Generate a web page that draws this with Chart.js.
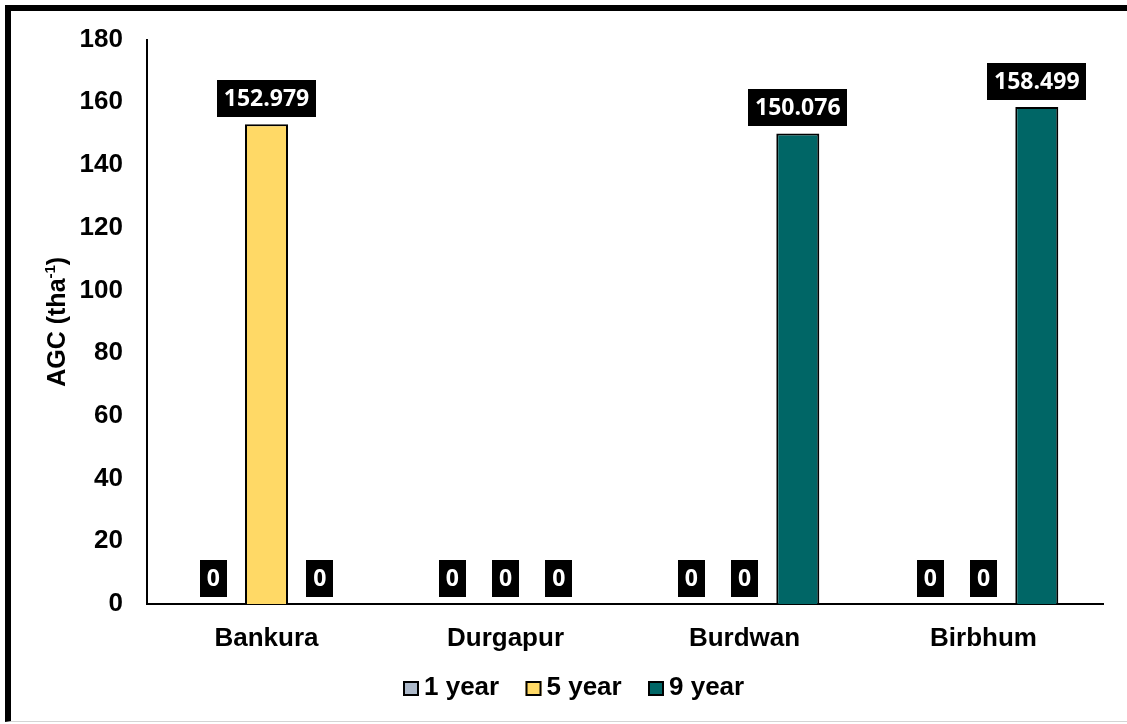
<!DOCTYPE html>
<html><head><meta charset="utf-8">
<script src="https://cdn.jsdelivr.net/npm/chart.js@4.4.0/dist/chart.umd.min.js"></script>
<style>
html,body{margin:0;padding:0;background:#fff;width:1127px;height:724px;overflow:hidden}
#frame{position:absolute;left:5px;top:5px;width:1122px;height:717px;border-left:6px solid #000;border-top:6px solid #000;border-bottom:1px solid #d4d4d4;box-sizing:border-box}
canvas{position:absolute;left:0;top:0}
</style></head><body>
<div id="frame"></div>
<canvas id="c" width="1127" height="724"></canvas>
<script>
const categories = ['Bankura', 'Durgapur', 'Burdwan', 'Birbhum'];
const seriesNames = ['1 year', '5 year', '9 year'];
const year1 = [0, 0, 0, 0];
const year5 = [152.979, 0, 0, 0];
const year9 = [0, 0, 150.076, 158.499];
const yTicks = [0, 20, 40, 60, 80, 100, 120, 140, 160, 180];
const yTitle = 'AGC (tha';
const yTitleSup = '-1';
const colors = ['#ADB9CA', '#FFD966', '#006666'];
const seriesData = [year1, year5, year9];

const TICK_FONT = '"Liberation Sans", Arial, sans-serif';
const LABEL_FONT = '"Open Sans", "Noto Sans", sans-serif';

const labelPlugin = {
  id: 'boxLabels',
  afterDatasetsDraw(chart) {
    const ctx = chart.ctx;
    ctx.save();
    ctx.font = 'bold 23px ' + LABEL_FONT;
    chart.data.datasets.forEach((ds, i) => {
      const meta = chart.getDatasetMeta(i);
      meta.data.forEach((bar, j) => {
        const v = ds.data[j];
        const txt = v === 0 ? '0' : v.toFixed(3);
        const w = Math.round(ctx.measureText(txt).width + 14);
        const h = 37;
        const bottom = Math.round(bar.y - 7);
        ctx.fillStyle = '#000';
        ctx.fillRect(Math.round(bar.x - w / 2), bottom - h, w, h);
        ctx.fillStyle = '#fff';
        ctx.textAlign = 'center';
        ctx.textBaseline = 'middle';
        ctx.fillText(txt, bar.x, bottom - h / 2 + 1);
      });
    });
    ctx.restore();
  }
};

const legendPlugin = {
  id: 'customLegend',
  afterDraw(chart) {
    const ctx = chart.ctx;
    ctx.save();
    ctx.font = 'bold 26px ' + TICK_FONT;
    ctx.textBaseline = 'alphabetic';
    ctx.textAlign = 'left';
    let x = 403;
    chart.data.datasets.forEach((ds, i) => {
      ctx.fillStyle = ds.backgroundColor;
      ctx.fillRect(x, 681, 16, 15);
      ctx.strokeStyle = '#000';
      ctx.lineWidth = 2;
      ctx.strokeRect(x + 1, 682, 14, 13);
      ctx.fillStyle = '#000';
      ctx.fillText(ds.label, x + 21, 695);
      x += 122.5;
    });
    ctx.restore();
  }
};

const titlePlugin = {
  id: 'yTitle',
  afterDraw(chart) {
    const ctx = chart.ctx;
    const a = chart.chartArea;
    ctx.save();
    ctx.translate(65, (a.top + a.bottom) / 2);
    ctx.rotate(-Math.PI / 2);
    ctx.fillStyle = '#000';
    ctx.textBaseline = 'alphabetic';
    ctx.textAlign = 'left';
    const mainF = 'bold 25px ' + TICK_FONT;
    const supF = 'bold 15px ' + TICK_FONT;
    ctx.font = mainF; const w1 = ctx.measureText(yTitle).width; const w3 = ctx.measureText(')').width;
    ctx.font = supF; const w2 = ctx.measureText(yTitleSup).width;
    let x = -(w1 + w2 + w3) / 2;
    ctx.font = mainF; ctx.fillText(yTitle, x, 0); x += w1;
    ctx.font = supF; ctx.fillText(yTitleSup, x, -10); x += w2;
    ctx.font = mainF; ctx.fillText(')', x, 0);
    ctx.restore();
  }
};

new Chart(document.getElementById('c'), {
  type: 'bar',
  data: {
    labels: categories,
    datasets: seriesNames.map((n, i) => ({
      label: n,
      data: seriesData[i],
      backgroundColor: colors[i],
      borderColor: '#000',
      borderWidth: 2,
      categoryPercentage: 0.669,
      barPercentage: 0.807
    }))
  },
  options: {
    responsive: false,
    animation: false,
    devicePixelRatio: 1,
    layout: { padding: { top: 38, right: 24, bottom: 0, left: 0 } },
    plugins: { legend: { display: false }, tooltip: { enabled: false } },
    scales: {
      x: {
        grid: { display: false },
        border: { display: true, color: '#000', width: 2 },
        ticks: { color: '#000', font: { family: TICK_FONT, size: 26, weight: 'bold' }, padding: 11 },
        afterFit(s) { s.height = 120; }
      },
      y: {
        min: 0, max: 180,
        afterBuildTicks(s) { s.ticks = yTicks.map(v => ({ value: v })); },
        grid: { display: false, drawTicks: false },
        border: { display: true, color: '#000', width: 2 },
        ticks: { color: '#000', font: { family: TICK_FONT, size: 26, weight: 'bold' }, padding: 24 },
        afterFit(s) { s.width = 147; }
      }
    }
  },
  plugins: [labelPlugin, legendPlugin, titlePlugin]
});
</script>
</body></html>
